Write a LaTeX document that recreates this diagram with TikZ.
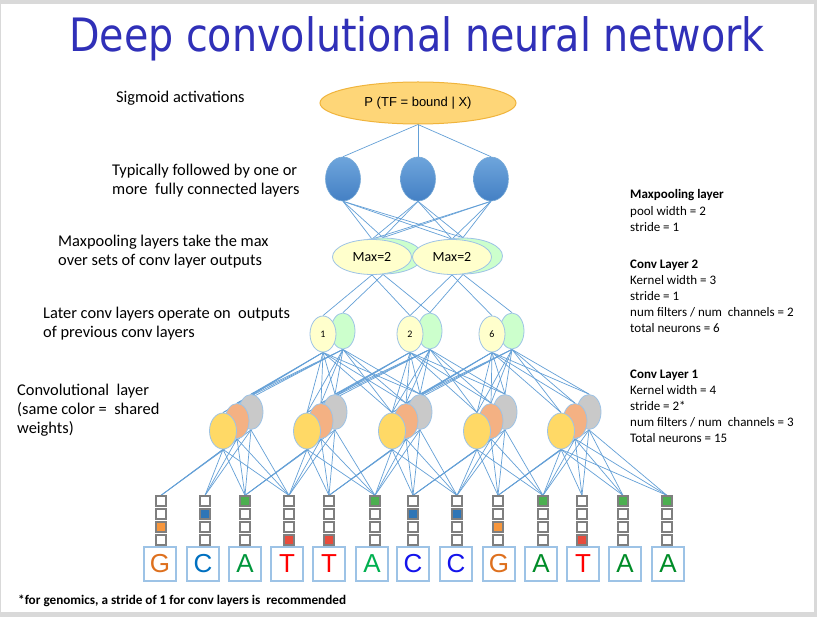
\documentclass[tikz,border=0pt]{standalone}
\usepackage{fontspec}
\setmainfont{Carlito}
\newfontfamily\titlefont{DejaVu Sans Condensed}
\newfontfamily\arialfont{Liberation Sans}
\usetikzlibrary{shapes.geometric}

\definecolor{slidegray}{RGB}{217,217,217}
\definecolor{titleblue}{RGB}{48,48,184}
\definecolor{wire}{RGB}{100,160,215}
\definecolor{softedge}{RGB}{157,195,230}
\definecolor{topfill}{RGB}{254,214,120}
\definecolor{topedge}{RGB}{240,180,60}
\definecolor{fctop}{RGB}{110,165,220}
\definecolor{fcbot}{RGB}{68,128,196}
\definecolor{fcedge}{RGB}{120,170,215}
\definecolor{paleyellow}{RGB}{255,255,204}
\definecolor{palegreen}{RGB}{204,255,204}
\definecolor{cyellow}{RGB}{255,217,102}
\definecolor{corange}{RGB}{244,177,131}
\definecolor{cgray}{RGB}{201,201,201}
\definecolor{hot0}{RGB}{76,175,80}
\definecolor{hot1}{RGB}{46,117,182}
\definecolor{hot2}{RGB}{247,150,60}
\definecolor{hot3}{RGB}{232,76,61}
\definecolor{boxedge}{RGB}{127,127,127}
\definecolor{lG}{RGB}{222,112,30}
\definecolor{lCa}{RGB}{0,112,192}
\definecolor{lCb}{RGB}{20,20,235}
\definecolor{lAa}{RGB}{0,150,60}
\definecolor{lAb}{RGB}{0,176,80}
\definecolor{lAc}{RGB}{0,140,40}
\definecolor{lT}{RGB}{255,0,0}

\pgfdeclarelayer{slide}
\pgfdeclarelayer{wires}
\pgfsetlayers{slide,wires,main}

\tikzset{
  wireline/.style={draw=wire,line width=0.7pt},
  outnode/.style={ellipse,draw=topedge,line width=1pt,fill=topfill,
    minimum width=196pt,minimum height=42pt,inner sep=0pt,
    font=\arialfont\fontsize{13}{15}\selectfont},
  fcnode/.style={ellipse,draw=fcedge,line width=0.6pt,top color=fctop,bottom color=fcbot,
    minimum width=35pt,minimum height=44pt,inner sep=0pt},
  poolfront/.style={ellipse,draw=softedge,line width=0.8pt,fill=paleyellow,
    minimum width=79pt,minimum height=35pt,inner sep=0pt,font=\fontsize{14}{16}\selectfont},
  poolback/.style={ellipse,draw=softedge,line width=0.8pt,fill=palegreen,
    minimum width=79pt,minimum height=36pt,inner sep=0pt},
  cfront/.style={ellipse,draw=softedge,line width=0.8pt,fill=paleyellow,
    minimum width=26pt,minimum height=36pt,inner sep=0pt,font=\fontsize{10}{12}\selectfont},
  cback/.style={ellipse,draw=softedge,line width=0.8pt,fill=palegreen,
    minimum width=24pt,minimum height=36pt,inner sep=0pt},
  kyellow/.style={ellipse,draw=softedge,line width=0.8pt,fill=cyellow,
    minimum width=27pt,minimum height=36pt,inner sep=0pt},
  korange/.style={ellipse,draw=softedge,line width=0.8pt,fill=corange,
    minimum width=24pt,minimum height=35pt,inner sep=0pt},
  kgray/.style={ellipse,draw=softedge,line width=0.8pt,fill=cgray,
    minimum width=24pt,minimum height=35pt,inner sep=0pt},
  hotbox/.style={rectangle,draw=boxedge,line width=1.2pt,minimum size=10pt,inner sep=0pt},
  basebox/.style={rectangle,draw=softedge,line width=1.2pt,fill=white,
    minimum width=32pt,minimum height=34pt,inner sep=0pt,
    font=\arialfont\fontsize{26}{26}\selectfont},
  lefttext/.style={anchor=base west,inner sep=0pt,font=\fontsize{16.4}{19}\selectfont},
  righttext/.style={anchor=base west,inner sep=0pt,font=\fontsize{13}{16}\selectfont},
}

\begin{document}
\begin{tikzpicture}[x=1pt,y=-1pt]
\useasboundingbox (0,0) rectangle (817,617);

% slide frame
\begin{pgfonlayer}{slide}
  \fill[slidegray] (0,0) rectangle (817,617);
  \fill[white] (1,4) rectangle (814,612);
\end{pgfonlayer}

% title
\node[anchor=base,inner sep=0pt,text=titleblue,font=\titlefont\fontsize{46}{50}\selectfont]
  (title) at (417,52) {\scalebox{0.958}[1]{Deep convolutional neural network}};

% left annotations
\node[lefttext] (ls1) at (116,103) {Sigmoid activations};
\node[lefttext] (lf1) at (112,176) {Typically followed by one or};
\node[lefttext] (lf2) at (112,195) {more\ \ fully connected layers};
\node[lefttext] (lm1) at (58,247) {Maxpooling layers take the max};
\node[lefttext] (lm2) at (58,266) {over sets of conv layer outputs};
\node[lefttext] (ll1) at (43,319) {Later conv layers operate on\ \ outputs};
\node[lefttext] (ll2) at (43,338) {of previous conv layers};
\node[lefttext] (lc1) at (17,396) {Convolutional\ \ layer};
\node[lefttext] (lc2) at (17,415) {(same color =\ \ shared};
\node[lefttext] (lc3) at (17,434) {weights)};

% right annotations
\node[righttext,font=\bfseries\fontsize{13}{16}\selectfont] (rm0) at (630,199) {Maxpooling layer};
\node[righttext] (rm1) at (630,216) {pool width = 2};
\node[righttext] (rm2) at (630,232) {stride = 1};
\node[righttext,font=\bfseries\fontsize{13}{16}\selectfont] (rb0) at (630,269) {Conv Layer 2};
\node[righttext] (rb1) at (630,285) {Kernel width = 3};
\node[righttext] (rb2) at (630,301) {stride = 1};
\node[righttext] (rb3) at (630,317) {num filters / num\ \ channels = 2};
\node[righttext] (rb4) at (630,333) {total neurons = 6};
\node[righttext,font=\bfseries\fontsize{13}{16}\selectfont] (ra0) at (630,379) {Conv Layer 1};
\node[righttext] (ra1) at (630,395) {Kernel width = 4};
\node[righttext] (ra2) at (630,411) {stride = 2*};
\node[righttext] (ra3) at (630,427) {num filters / num\ \ channels = 3};
\node[righttext] (ra4) at (630,443) {Total neurons = 15};

% footnote
\node[anchor=base west,inner sep=0pt,font=\bfseries\fontsize{13.2}{15}\selectfont]
  (foot) at (18,604) {*for genomics, a stride of 1 for conv layers is\ \ recommended};

% output unit
\node[outnode] (out) at (418,103) {P (TF = bound | X)};

% fully connected units
\foreach \i/\x in {1/343,2/418,3/491}
  \node[fcnode] (fc\i) at (\x,179) {};

% max pooling units
\foreach \j/\x in {1/372,2/452}{
  \node[poolback] (mpg\j) at (\x+11,256) {};
  \node[poolfront] (mpy\j) at (\x,257) {Max=2\hspace{16pt}};
}

% second convolution layer
\foreach \k/\x/\n in {1/323/1,2/410/2,3/492/6}{
  \node[cback] (c2g\k) at (\x+20,331) {};
  \node[cfront] (c2y\k) at (\x,334) {\n};
}

% first convolution layer: three filters per position
\foreach \i/\x in {0/223,1/307,2/392,3/477,4/561}{
  \node[kgray] (c1g\i) at (\x+28,412) {};
  \node[korange] (c1o\i) at (\x+14,421) {};
  \node[kyellow] (c1y\i) at (\x,431) {};
}

% one-hot encoded sequence
\foreach \c/\x/\lx/\b/\h/\lc in {0/161/160/G/2/lG,1/205/203/C/1/lCa,2/245/245/A/0/lAa,
    3/289/287/T/3/lT,4/329/329/T/3/lT,5/375/372/A/0/lAb,6/413/413/C/1/lCb,
    7/457/456/C/1/lCb,8/498/499/G/2/lG,9/543/541/A/0/lAc,10/582/583/T/3/lT,
    11/623/625/A/0/lAc,12/667/668/A/0/lAc}{
  \foreach \r in {0,...,3}{
    \ifnum\r=\h \def\hf{hot\r}\else\def\hf{white}\fi
    \node[hotbox,fill=\hf] (h\c-\r) at (\x,{501+13*\r}) {};
  }
  \node[basebox,text=\lc] (b\c) at (\lx,564) {\b};
}

% connections
\begin{pgfonlayer}{wires}
  \foreach \i in {1,2,3}{
    \draw[wireline] (out.south) -- (fc\i.north);
    \foreach \j in {1,2}{
      \draw[wireline] (fc\i.south) -- (mpy\j.north);
      \draw[wireline] (fc\i.south) -- (mpg\j.north);
    }
  }
  \foreach \j in {1,2}{
    \pgfmathtruncatemacro{\jn}{\j+1}
    \foreach \k in {\j,\jn}{
      \draw[wireline] (mpy\j.south) -- (c2y\k.north);
      \draw[wireline] (mpg\j.south) -- (c2g\k.north);
    }
  }
  \foreach \k in {1,2,3}{
    \pgfmathtruncatemacro{\ka}{\k-1}
    \pgfmathtruncatemacro{\kb}{\k+1}
    \foreach \i in {\ka,...,\kb}{
      \foreach \f in {y,o,g}{
        \draw[wireline] (c2y\k.south) -- (c1\f\i.north);
        \draw[wireline] (c2g\k.south) -- (c1\f\i.north);
      }
    }
  }
  % receptive fields of the first layer (last position reaches the sequence end)
  \foreach \i/\ca/\cb in {0/0/3,1/2/5,2/4/7,3/6/9,4/8/12}{
    \foreach \c in {\ca,...,\cb}{
      \foreach \f in {y,o,g}{
        \draw[wireline] (c1\f\i.south) -- (h\c-0.north);
      }
    }
  }
\end{pgfonlayer}
\end{tikzpicture}
\end{document}
